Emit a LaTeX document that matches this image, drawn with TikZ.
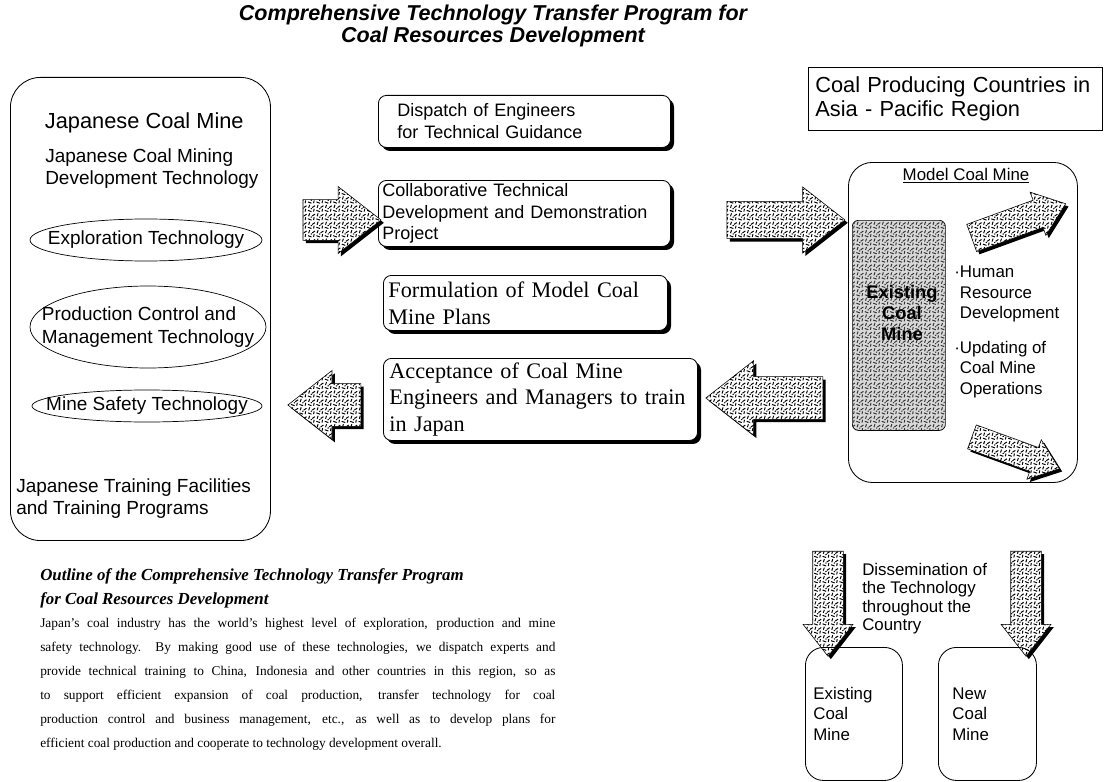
\documentclass[tikz,border=0pt]{standalone}
\usepackage{fontspec}
\setmainfont{Liberation Serif}
\setsansfont{Liberation Sans}
\usetikzlibrary{shapes.geometric, shapes.arrows, shadows, patterns, positioning}

% scribbled texture of the block arrows
\pgfdeclarepatternformonly{coalnoise}{\pgfqpoint{-1pt}{-1pt}}{\pgfqpoint{7pt}{7pt}}{\pgfqpoint{6pt}{6pt}}{%
  \pgfsetlinewidth{0.7pt}
  \pgfpathmoveto{\pgfqpoint{0pt}{0.5pt}}\pgfpathlineto{\pgfqpoint{2pt}{1.8pt}}
  \pgfpathmoveto{\pgfqpoint{3.5pt}{0.3pt}}\pgfpathlineto{\pgfqpoint{4.2pt}{2.4pt}}
  \pgfpathmoveto{\pgfqpoint{1pt}{3.6pt}}\pgfpathlineto{\pgfqpoint{1.4pt}{5.6pt}}
  \pgfpathmoveto{\pgfqpoint{3pt}{4.5pt}}\pgfpathlineto{\pgfqpoint{5.5pt}{3.6pt}}
  \pgfpathmoveto{\pgfqpoint{5pt}{5.5pt}}\pgfpathlineto{\pgfqpoint{5.8pt}{5.9pt}}
  \pgfusepath{stroke}}

\begin{document}
\begin{tikzpicture}[x=0.025cm, y=-0.025cm,
  sans/.style={font=\sffamily\fontsize{12}{14.5}\selectfont},
  jpfont/.style={font=\sffamily\fontsize{13.5}{16}\selectfont},
  midfont/.style={font=\sffamily\fontsize{12.8}{15.5}\selectfont},
  serif/.style={font=\rmfamily\fontsize{15.8}{19}\selectfont},
  outer/.style={draw, line width=0.6pt, rounded corners=0.75cm, anchor=north west},
  techline/.style={line width=0.5pt},
  shadebox/.style={draw, line width=0.6pt, rounded corners=0.2cm, fill=white,
    anchor=north west, align=left, inner ysep=0pt,
    drop shadow={shadow xshift=2.5pt, shadow yshift=-2.5pt, fill=black, opacity=1}},
  blockarrow/.style={single arrow, single arrow tip angle=76, draw=black, line width=0.4pt, inner xsep=0pt,
    fill=white, postaction={pattern=coalnoise},
    drop shadow={shadow xshift=2pt, shadow yshift=-2pt, fill=black, opacity=1}},
  minebox/.style={draw, line width=0.6pt, rounded corners=0.45cm, anchor=north west,
    minimum width=2.425cm, minimum height=3.325cm, align=left, sans}
]
\useasboundingbox (0,0) rectangle (1105,782);

% Title
\node[font=\sffamily\bfseries\itshape\fontsize{15.3}{16}\selectfont, align=center] (title) at (493,26)
  {Comprehensive Technology Transfer Program for\\Coal Resources Development};

% Japanese side
\node[outer, minimum width=6.5cm, minimum height=11.575cm] (jpbox) at (10,77) {};
\node[anchor=west, font=\sffamily\fontsize{15.5}{17}\selectfont] (jphead) at (40,123) {Japanese Coal Mine};
\node[anchor=north west, align=left, jpfont, inner sep=0pt] (jptech) at (45,148)
  {Japanese Coal Mining\\Development Technology};
\node[jpfont] (explore) at (146,240) {Exploration Technology};
\node[jpfont, align=left] (prodctl) at (148,327) {Production Control and\\Management Technology};
\node[jpfont] (safety) at (147,406) {Mine Safety Technology};
\draw[techline] (explore.center) ellipse [x radius=116, y radius=21];
\draw[techline] (prodctl.center) ellipse [x radius=118, y radius=41];
\draw[techline] (safety.center) ellipse [x radius=115, y radius=16];
\node[anchor=north west, align=left, jpfont, inner sep=0pt] (jptrain) at (16,478)
  {Japanese Training Facilities\\and Training Programs};

% Programs
\node[shadebox, midfont, minimum width=7.3cm, minimum height=1.3cm, text width=6.35cm, inner xsep=0.475cm]
  (dispatch) at (378,95) {Dispatch of Engineers\\for Technical Guidance};
\node[shadebox, midfont, minimum width=7.3cm, minimum height=1.65cm, text width=7.1cm, inner xsep=0.1cm]
  (collab) at (378,180) {Collaborative Technical\\Development and Demonstration\\Project};
\node[shadebox, serif, minimum width=7.1cm, minimum height=1.375cm, text width=6.85cm, inner xsep=0.125cm]
  (formul) at (383,275) {Formulation of Model Coal\\Mine Plans};
\node[shadebox, serif, minimum width=7.85cm, minimum height=2.05cm, text width=7.75cm, inner xsep=0.05cm]
  (accept) at (383,358) {\hspace{0.1cm}Acceptance of Coal Mine\\\hspace{0.1cm}Engineers and Managers to train\\\hspace{0.1cm}in Japan};

% Block arrows
\node[blockarrow, minimum height=1.95cm, minimum width=1.65cm, inner ysep=0.5cm, single arrow head extend=0.33cm] (arrout) at (329,220) {};
\node[blockarrow, rotate=180, minimum height=1.825cm, minimum width=1.7cm, inner ysep=0.525cm, single arrow head extend=0.33cm] (arrback) at (338,405) {};
\node[blockarrow, minimum height=2.95cm, minimum width=1.65cm, inner ysep=0.46cm, single arrow head extend=0.36cm] (arrmodel) at (774,220) {};
\node[blockarrow, rotate=180, minimum height=2.925cm, minimum width=1.825cm, inner ysep=0.525cm, single arrow head extend=0.4cm] (arrreturn) at (778,398) {};

% Asia - Pacific side
\node[draw, line width=0.5pt, anchor=north west, minimum width=7.35cm, minimum height=1.575cm, align=left,
  text width=7cm, font=\sffamily\fontsize{15.5}{17.5}\selectfont] (region) at (808,67)
  {Coal Producing Countries in\\Asia - Pacific Region};
\node[outer, rounded corners=0.6cm, minimum width=5.725cm, minimum height=8cm] (modelbox) at (848,162) {};
\node[sans] (modelttl) at (966,176) {\underline{Model Coal Mine}};
\node[draw, line width=0.5pt, rounded corners=0.15cm, anchor=north west, minimum width=2.325cm, minimum height=5.25cm,
  fill=black!15, postaction={pattern=coalnoise, pattern color=black!80}] (oldmine) at (852,220) {};
\node[align=center, font=\sffamily\bfseries\fontsize{13}{15}\selectfont] (oldtxt) at (902,313) {Existing\\Coal\\Mine};
\node[sans, anchor=north west, align=left, inner sep=0pt] (bulhuman) at (954,266)
  {·Human\\\hphantom{·}Resource\\\hphantom{·}Development};
\node[sans, anchor=north west, align=left, inner sep=0pt] (bulupdate) at (954,341)
  {·Updating of\\\hphantom{·}Coal Mine\\\hphantom{·}Operations};
\node[blockarrow, rotate=20, minimum height=2.5cm, minimum width=1.15cm, inner ysep=0.33cm, single arrow head extend=0.2cm] (arrup) at (1010,224) {};
\node[blockarrow, rotate=-20, minimum height=2.325cm, minimum width=1.05cm, inner ysep=0.3cm, single arrow head extend=0.2cm] (arrdown) at (1008,450) {};

% Dissemination
\node[blockarrow, rotate=-90, minimum height=2.625cm, minimum width=1.25cm, inner ysep=0.37cm, single arrow head extend=0.24cm] (arrdownl) at (828,594) {};
\node[blockarrow, rotate=-90, minimum height=2.625cm, minimum width=1.25cm, inner ysep=0.37cm, single arrow head extend=0.24cm] (arrdownr) at (1026,594) {};
\node[anchor=north west, align=left, inner sep=0pt, font=\sffamily\fontsize{12}{13}\selectfont] (dissem) at (862,563)
  {Dissemination of\\the Technology\\throughout the\\Country};
\node[minebox, text width=2.025cm, inner xsep=0.2cm] (exmine) at (805,647) {Existing\\Coal\\Mine};
\node[minebox, text width=1.75cm, inner xsep=0.35cm] (newmine) at (938,647) {New\\Coal\\Mine};

% Outline text
\node[anchor=north west, inner sep=0pt, text width=12.875cm, align=justify,
  font=\rmfamily\fontsize{9.5}{17}\selectfont] (outline) at (40,568)
  {{\fontsize{12}{17}\selectfont\bfseries\itshape Outline of the Comprehensive Technology Transfer Program\\
  for Coal Resources Development}\\
  Japan's coal industry has the world's highest level of exploration, production and mine\linebreak
  safety technology.\ \ By making good use of these technologies, we dispatch experts and\linebreak
  provide technical training to China, Indonesia and other countries in this region, so as\linebreak
  to support efficient expansion of coal production, transfer technology for coal\linebreak
  production control and business management, etc., as well as to develop plans for\linebreak
  efficient coal production and cooperate to technology development overall.};
\end{tikzpicture}
\end{document}
